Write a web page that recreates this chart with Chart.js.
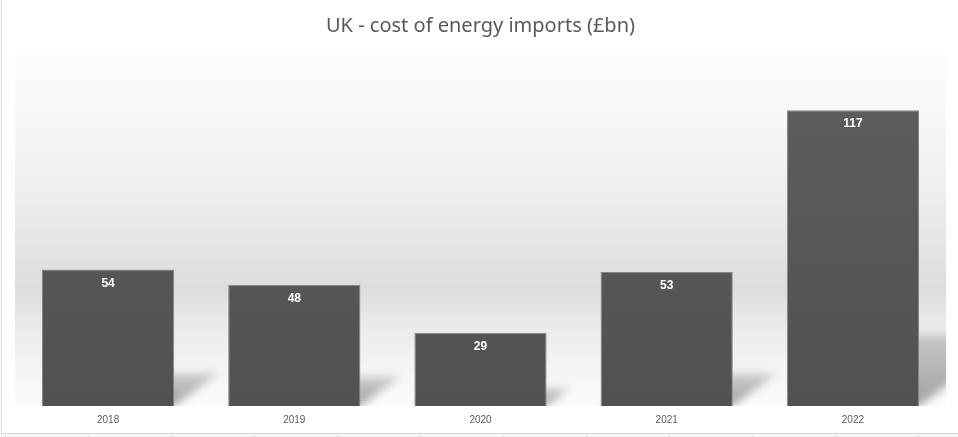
<!DOCTYPE html>
<html>
<head>
<meta charset="utf-8">
<script src="https://cdn.jsdelivr.net/npm/chart.js@4"></script>
<style>
  html, body { margin: 0; padding: 0; background: #fff; }
  #wrap { position: relative; width: 958px; height: 437px; overflow: hidden;
          background: repeating-linear-gradient(90deg, #e2e2e2 0 1px, #f7f7f7 1px 83px); background-position: 5px 0; }
  #box { position: absolute; left: 1px; top: 0; width: 957px; height: 433px; background: #fff;
         border-left: 1px solid #e3e3e3; border-bottom: 1px solid #d9d9d9; }
</style>
</head>
<body>
<div id="wrap">
  <div id="box"><canvas id="importsChart" width="957" height="433"></canvas></div>
</div>
<script>
const years = ['2018', '2019', '2020', '2021', '2022'];
const importCost = [54, 48, 29, 53, 117];

// plot area background: soft grey band like the Excel style
const backdrop = {
    id: 'backdrop',
    beforeDraw(chart) {
        const { ctx, chartArea: a } = chart;
        const g = ctx.createLinearGradient(0, a.top, 0, a.bottom);
        g.addColorStop(0, '#fdfdfd');
        g.addColorStop(0.14, '#f9f9f9');
        g.addColorStop(0.42, '#ededed');
        g.addColorStop(0.665, '#dddddd');
        g.addColorStop(0.79, '#ececec');
        g.addColorStop(0.92, '#f6f6f6');
        g.addColorStop(1, '#fcfcfc');
        ctx.save();
        ctx.fillStyle = g;
        ctx.fillRect(a.left, a.top, a.right - a.left, a.bottom - a.top);
        ctx.restore();
    }
};

// perspective shadow behind each bar
const barShadow = {
    id: 'barShadow',
    beforeDatasetsDraw(chart) {
        const { ctx, chartArea: a } = chart;
        const bars = chart.getDatasetMeta(0).data;
        ctx.save();
        ctx.beginPath();
        ctx.rect(a.left, a.top, a.right - a.left, a.bottom - a.top);
        ctx.clip();
        ctx.filter = 'blur(4px)';
        bars.forEach(bar => {
            const { x, y, base, width } = bar.getProps(['x', 'y', 'base', 'width'], true);
            const x1 = x - width / 2, x2 = x + width / 2;
            const h = (base - y) * 0.24;
            const s = h * 1.36;
            const g = ctx.createLinearGradient(0, base, 0, base - h);
            g.addColorStop(0, 'rgba(0,0,0,0.36)');
            g.addColorStop(1, 'rgba(0,0,0,0.16)');
            ctx.fillStyle = g;
            ctx.beginPath();
            ctx.moveTo(x1, base);
            ctx.lineTo(x2, base);
            ctx.lineTo(x2 + s, base - h);
            ctx.lineTo(x1 + s, base - h);
            ctx.closePath();
            ctx.fill();
        });
        ctx.restore();
    }
};

// value labels inside the top of each bar
const valueLabels = {
    id: 'valueLabels',
    afterDatasetsDraw(chart) {
        const { ctx } = chart;
        const bars = chart.getDatasetMeta(0).data;
        ctx.save();
        ctx.fillStyle = '#ffffff';
        ctx.font = 'bold 12px "Liberation Sans", Arial, sans-serif';
        ctx.textAlign = 'center';
        ctx.textBaseline = 'middle';
        bars.forEach((bar, i) => {
            ctx.fillText(importCost[i], bar.x, bar.y + 14);
        });
        ctx.restore();
    }
};

const ctx = document.getElementById('importsChart');
const barFill = ctx.getContext('2d').createLinearGradient(0, 100, 0, 405);
barFill.addColorStop(0, '#5d5d5d');
barFill.addColorStop(1, '#515151');

new Chart(ctx, {
    type: 'bar',
    data: {
        labels: years,
        datasets: [{
            label: 'Cost of energy imports (£bn)',
            data: importCost,
            backgroundColor: barFill,
            borderColor: '#858585',
            borderWidth: 1,
            categoryPercentage: 1,
            barPercentage: 0.71
        }]
    },
    options: {
        responsive: false,
        animation: false,
        layout: { padding: { left: 13, right: 13, top: 0, bottom: 7 } },
        plugins: {
            legend: { display: false },
            tooltip: { enabled: false },
            title: {
                display: true,
                text: 'UK - cost of energy imports (£bn)',
                color: '#595959',
                font: { family: '"Noto Sans", sans-serif', size: 20, weight: 'normal' },
                padding: { top: 14, bottom: 14 }
            }
        },
        scales: {
            y: { display: false, min: 0, max: 140 },
            x: {
                grid: { display: false },
                border: { display: false },
                ticks: {
                    color: '#595959',
                    padding: 0,
                    font: { family: '"Liberation Sans", Arial, sans-serif', size: 10 }
                }
            }
        }
    },
    plugins: [backdrop, barShadow, valueLabels]
});
</script>
</body>
</html>
